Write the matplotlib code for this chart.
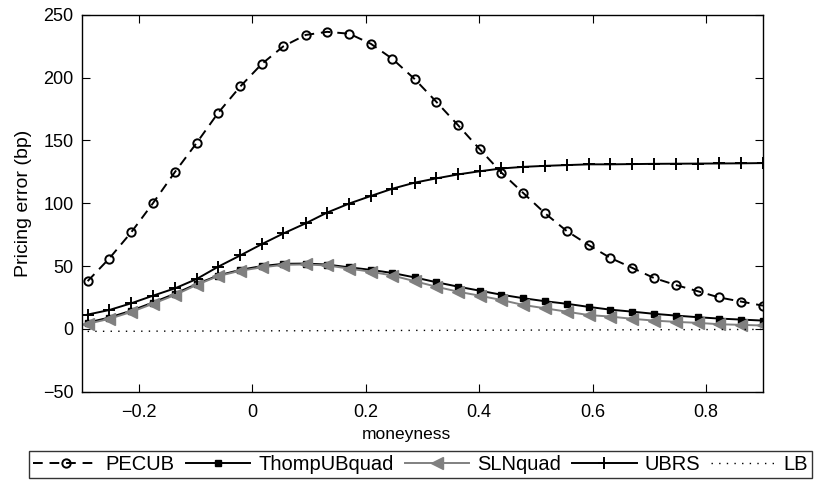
import matplotlib
matplotlib.use("Agg")
import matplotlib.pyplot as plt

plt.rcParams['font.family'] = ['Liberation Sans', 'DejaVu Sans']

# moneyness grid (32 points)
moneyness = [-0.290, -0.252, -0.213, -0.175, -0.136, -0.098, -0.060, -0.021,
             0.017, 0.055, 0.094, 0.132, 0.171, 0.209, 0.247, 0.286,
             0.324, 0.363, 0.401, 0.439, 0.478, 0.516, 0.554, 0.593,
             0.631, 0.670, 0.708, 0.746, 0.785, 0.823, 0.862, 0.900]

pecub = [38, 56, 77, 100, 125, 148, 172, 193, 211, 225, 234, 236.5, 235, 227, 215, 199,
         181, 162, 143, 124.5, 108, 92, 78, 66.7, 56.5, 48.5, 40.5, 35, 30, 25, 21.7, 18.5]
thomp = [5, 9, 14.5, 21, 28, 35.7, 42.5, 47, 50, 51.8, 52, 51.2, 49, 47, 44.5, 41,
         37.2, 33.6, 30.4, 27.2, 24.4, 22, 20, 17.5, 15.3, 13.7, 12, 10.6, 9.3, 8.2, 7.4, 6.6]
sln = [4, 8, 13.5, 20, 27, 35, 42, 46.3, 49, 51, 51.3, 50.5, 48, 45.5, 42.5, 38,
       33.6, 29.6, 26.4, 23, 19, 16.4, 13.7, 11, 9.8, 8, 6.6, 5.6, 4.8, 3.7, 3.2, 2.7]
ubrs = [11.4, 15, 20.4, 26.4, 32.3, 39.7, 49.5, 58.5, 67.5, 76, 84, 92.6, 99.8, 105.8, 111.6, 116.4,
        119.8, 123, 125.5, 127.7, 129, 129.8, 130.4, 131, 131, 131.2, 131.4, 131.5, 131.6, 131.7, 131.8, 132]
lb = [-2.0, -1.9, -1.9, -1.8, -1.8, -1.7, -1.7, -1.6, -1.6, -1.5, -1.5, -1.4, -1.4, -1.3, -1.3, -1.2,
      -1.2, -1.1, -1.1, -1.0, -1.0, -0.9, -0.9, -0.8, -0.8, -0.7, -0.7, -0.6, -0.6, -0.5, -0.5, -0.4]

fig = plt.figure(figsize=(8.14, 4.8), dpi=100)
ax = fig.add_axes([0.1007, 0.184, 0.8366, 0.785])

ax.plot(moneyness, pecub, color='k', ls=(0, (5, 3.5)), lw=1.4, marker='o', ms=6,
        mfc='none', mec='k', mew=1.4, label='PECUB')
ax.plot(moneyness, thomp, color='k', lw=1.4, marker='s', ms=5, mfc='k', mec='k',
        label='ThompUBquad')
ax.plot(moneyness, sln, color='0.5', lw=1.4, marker='<', ms=9, mfc='0.5', mec='0.5',
        label='SLNquad')
ax.plot(moneyness, ubrs, color='k', lw=1.4, marker='+', ms=8, mew=1.4, label='UBRS')
ax.plot(moneyness, lb, color='k', ls=(0, (1, 4.5)), lw=1.0, label='LB')

ax.set_xlim(-0.3, 0.9)
ax.set_ylim(-50, 250)
ax.set_xticks([-0.2, 0, 0.2, 0.4, 0.6, 0.8])
ax.set_xticklabels(['\u22120.2', '0', '0.2', '0.4', '0.6', '0.8'])
ax.set_yticks([-50, 0, 50, 100, 150, 200, 250])
ax.set_yticklabels(['\u221250', '0', '50', '100', '150', '200', '250'])
ax.tick_params(axis='both', direction='in', top=True, right=True, length=6, width=0.8, labelsize=13)
ax.tick_params(axis='x', pad=9)
ax.tick_params(axis='y', pad=6)
for s in ax.spines.values():
    s.set_linewidth(1.0)

ax.set_xlabel('moneyness', fontsize=12.5)
ax.xaxis.set_label_coords(0.477, -0.095)
ax.set_ylabel('Pricing error (bp)', fontsize=14, labelpad=8)

leg = fig.legend(loc='lower left', bbox_to_anchor=(0.036, 0.004, 0.962, 0.067),
                 mode='expand', ncol=5, fontsize=14.5, frameon=True, fancybox=False,
                 handlelength=3.2, handletextpad=0.4, columnspacing=0.4,
                 borderpad=0.2, borderaxespad=0)
leg.get_frame().set_edgecolor('k')
leg.get_frame().set_linewidth(1.0)

fig.savefig('out.png', dpi=100)
